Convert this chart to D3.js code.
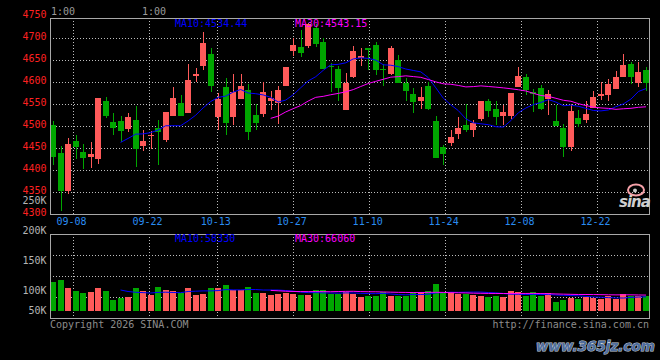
<!DOCTYPE html>
<html><head><meta charset="utf-8">
<script src="https://cdn.jsdelivr.net/npm/d3@7/dist/d3.min.js"></script>
<style>
html,body{margin:0;padding:0;background:#000;}
svg{display:block;}
text{font-family:"DejaVu Sans Mono",monospace;font-size:10px;}
</style></head>
<body>
<script>
// ---------- DATA ----------
const dates = ["09-03","09-04","09-05","09-08","09-09","09-10","09-11","09-12","09-15","09-16",
"09-17","09-18","09-19","09-22","09-23","09-24","09-25","09-26","09-29","09-30",
"10-09","10-10","10-13","10-14","10-15","10-16","10-17","10-20","10-21","10-22",
"10-23","10-24","10-27","10-28","10-29","10-30","10-31","11-03","11-04","11-05",
"11-06","11-07","11-10","11-11","11-12","11-13","11-14","11-17","11-18","11-19",
"11-20","11-21","11-24","11-25","11-26","11-27","11-28","12-01","12-02","12-03",
"12-04","12-05","12-08","12-09","12-10","12-11","12-12","12-15","12-16","12-17",
"12-18","12-19","12-22","12-23","12-24","12-25","12-26","12-29","12-30","12-31"];
const opens = [4503,4440,4354,4467,4442,4431,4426,4558,4510,4511,4495,4514,4456,4477,4496,4469,4524,4552,4531,4615,
4638,4664,4520,4589,4522,4561,4583,4526,4528,4558,4552,4592,4672,4680,4683,4724,4692,4638,4630,4537,
4611,4656,4677,4684,4630,4619,4651,4599,4574,4558,4592,4512,4453,4461,4483,4502,4492,4516,4557,4539,
4524,4524,4589,4612,4577,4587,4561,4512,4496,4452,4518,4514,4542,4569,4571,4585,4611,4642,4599,4628];
const highs = [4511,4456,4474,4480,4460,4464,4564,4567,4530,4523,4530,4546,4492,4489,4514,4533,4589,4571,4642,4633,
4714,4677,4575,4610,4619,4618,4597,4550,4601,4580,4592,4635,4700,4719,4735,4733,4700,4644,4638,4621,
4683,4678,4678,4692,4642,4683,4661,4609,4587,4589,4601,4524,4458,4492,4521,4551,4514,4558,4563,4557,
4549,4576,4635,4619,4585,4594,4583,4549,4505,4551,4536,4557,4580,4601,4608,4626,4664,4646,4646,4635];
const lows = [4411,4308,4346,4426,4402,4406,4415,4519,4480,4464,4488,4408,4443,4449,4411,4465,4523,4524,4530,4600,
4627,4577,4492,4481,4502,4561,4469,4492,4521,4538,4506,4592,4660,4658,4677,4680,4630,4577,4558,4536,
4609,4637,4627,4617,4592,4617,4599,4558,4531,4540,4536,4429,4411,4455,4471,4486,4476,4511,4521,4503,
4502,4517,4589,4571,4533,4536,4526,4501,4430,4445,4499,4508,4542,4560,4558,4585,4611,4597,4589,4580];
const closes = [4431,4352,4460,4453,4427,4436,4564,4524,4497,4490,4521,4449,4467,4481,4486,4533,4565,4524,4606,4619,
4689,4592,4563,4508,4578,4592,4486,4508,4578,4564,4583,4635,4685,4667,4733,4688,4631,4634,4588,4599,
4671,4660,4673,4627,4627,4678,4599,4580,4555,4567,4540,4429,4436,4476,4496,4492,4508,4558,4535,4520,
4533,4576,4615,4583,4574,4539,4574,4501,4452,4535,4505,4529,4567,4574,4596,4612,4639,4611,4624,4599];
const volumes = [122700,131100,97300,84600,76100,80400,97300,84600,46500,55000,
59200,97300,84600,67700,101500,88800,84600,76100,97300,67700,
71900,97300,97300,110000,88800,88800,100100,76100,76100,67700,
71900,76100,71900,67700,67700,88800,88800,72000,69100,79000,
69100,59200,63500,63500,79000,63500,63500,63500,79000,79000,
83200,114200,79000,79000,71900,71900,67700,63500,59200,63500,
59200,83200,79000,63500,79000,63500,74700,38100,45100,55000,
49400,57800,55000,50800,63500,50800,70500,63500,62000,63500];
const priceTicks = [4300,4350,4400,4450,4500,4550,4600,4650,4700,4750];
const volTicks = [250000,200000,150000,100000,50000];
const dateLabels = ["09-08","09-22","10-13","10-27","11-10","11-24","12-08","12-22"];
const priceLegend = ["MA10:4534.44","MA30:4543.15"];
const volLegend = ["MA10:58330","MA30:66060"];
const topLabels = ["1:00","1:00"];

// ---------- LAYOUT ----------
const W=660,H=360;
const main={l:50,r:649,t:18,b:214};
const vol={l:50,r:649,t:234,b:318};
const UP="#ff5a5a", DOWN="#00a600";
const GRID="#bdbdbd", BORDER="#a8a8a8";

const svg=d3.select("body").append("svg").attr("width",W).attr("height",H)
  .style("background","#000");
svg.append("rect").attr("width",W).attr("height",H).attr("fill","#000");

const n=closes.length;
const x=d3.scaleLinear().domain([0,n-1]).range([53,646]);
const xDate=d3.scaleLinear().domain([dates.indexOf("09-08"),dates.indexOf("12-22")]).range([72.7,596.7]);
const y=d3.scaleLinear().domain([4300,4750]).range([214.3,16.3]);
const yV=d3.scaleLinear().domain([0,200000]).range([310.7,263.4]);
const yVLabel=d3.scaleLinear().domain([100000,250000]).range([290,200.5]);

function ma(arr,k){return arr.map((v,i)=>i<k-1?null:d3.mean(arr.slice(i-k+1,i+1)));}

const gMain=svg.append("g").attr("shape-rendering","crispEdges");
priceTicks.filter(v=>v>4300&&v<4750).forEach(v=>{
  const yy=Math.round(y(v))+0.5;
  gMain.append("line").attr("x1",main.l).attr("x2",main.r).attr("y1",yy).attr("y2",yy)
    .attr("stroke",GRID).attr("stroke-dasharray","1,2");
});
dateLabels.forEach(d=>{
  const xx=Math.round(xDate(dates.indexOf(d)))+0.5;
  gMain.append("line").attr("x1",xx).attr("x2",xx).attr("y1",main.t).attr("y2",main.b)
    .attr("stroke",GRID).attr("stroke-dasharray","1,2");
  gMain.append("line").attr("x1",xx).attr("x2",xx).attr("y1",vol.t).attr("y2",vol.b)
    .attr("stroke",GRID).attr("stroke-dasharray","1,2");
});
[1,2,3].forEach(k=>{
  const yy=Math.round(vol.t+(vol.b-vol.t)*k/4)+0.5;
  gMain.append("line").attr("x1",vol.l).attr("x2",vol.r).attr("y1",yy).attr("y2",yy)
    .attr("stroke",GRID).attr("stroke-dasharray","1,2");
});

// candles
const gC=svg.append("g").attr("shape-rendering","crispEdges");
d3.range(n).forEach(i=>{
  const o=opens[i],c=closes[i],h=highs[i],l=lows[i];
  const col=c>=o?UP:DOWN;
  const left=Math.round(x(i))-3;
  const yh=Math.round(y(h)),yl=Math.round(y(l));
  gC.append("rect").attr("x",left+3).attr("y",yh).attr("width",1).attr("height",Math.max(1,yl-yh)).attr("fill",col);
  const bt=Math.round(y(Math.max(o,c))),bb=Math.round(y(Math.min(o,c)));
  gC.append("rect").attr("x",left).attr("y",bt).attr("width",6).attr("height",Math.max(1,bb-bt)).attr("fill",col);
});

// price MAs
const line=d3.line().defined(d=>d.v!=null).x(d=>x(d.i)).y(d=>y(d.v));
const ma10=ma(closes,10),ma30=ma(closes,30);
svg.append("path").datum(ma10.map((v,i)=>({i,v}))).attr("d",line).attr("fill","none").attr("stroke","#0000ff").attr("stroke-width",1);
svg.append("path").datum(ma30.map((v,i)=>({i,v}))).attr("d",line).attr("fill","none").attr("stroke","#ff00ff").attr("stroke-width",1);

// volume bars
const gV=svg.append("g").attr("shape-rendering","crispEdges");
const base=Math.round(yV(0));
d3.range(n).forEach(i=>{
  const col=closes[i]>=opens[i]?UP:DOWN;
  const top=Math.round(yV(volumes[i]));
  gV.append("rect").attr("x",Math.round(x(i))-3).attr("y",top).attr("width",6).attr("height",base-top).attr("fill",col);
});
const vline=d3.line().defined(d=>d.v!=null).x(d=>x(d.i)).y(d=>yV(d.v));
svg.append("path").datum(ma(volumes,10).map((v,i)=>({i,v}))).attr("d",vline).attr("fill","none").attr("stroke","#0000ff").attr("stroke-width",1);
svg.append("path").datum(ma(volumes,30).map((v,i)=>({i,v}))).attr("d",vline).attr("fill","none").attr("stroke","#ff00ff").attr("stroke-width",1);

// borders
const gB=svg.append("g").attr("shape-rendering","crispEdges").attr("fill","none").attr("stroke",BORDER);
gB.append("rect").attr("x",main.l+0.5).attr("y",main.t+0.5).attr("width",main.r-main.l).attr("height",main.b-main.t);
gB.append("rect").attr("x",vol.l+0.5).attr("y",vol.t+0.5).attr("width",vol.r-vol.l).attr("height",vol.b-vol.t);

// axis labels
priceTicks.forEach(v=>{
  svg.append("text").attr("x",46.5).attr("y",y(v)+2).attr("text-anchor","end")
    .attr("fill","#ff2020").text(v);
});
volTicks.forEach(v=>{
  svg.append("text").attr("x",46.5).attr("y",Math.min(yVLabel(v),310.7)+3.6).attr("text-anchor","end")
    .attr("fill","#b4b4b4").text(v/1000+"K");
});
dateLabels.forEach(d=>{
  svg.append("text").attr("x",xDate(dates.indexOf(d))-1.2).attr("y",225).attr("text-anchor","middle")
    .attr("fill","#2a8cf0").text(d);
});
svg.append("text").attr("x",51).attr("y",14.5).attr("fill","#9a9a9a").text(topLabels[0]);
svg.append("text").attr("x",142).attr("y",14.5).attr("fill","#9a9a9a").text(topLabels[1]);

// legends
svg.append("text").attr("x",175).attr("y",27.3).attr("fill","#0000ff").text(priceLegend[0]);
svg.append("text").attr("x",295).attr("y",27.3).attr("fill","#ff00ff").text(priceLegend[1]);
svg.append("text").attr("x",175).attr("y",242.3).attr("fill","#0000ff").text(volLegend[0]);
svg.append("text").attr("x",295).attr("y",242.3).attr("fill","#ff00ff").text(volLegend[1]);

// footer
svg.append("text").attr("x",50).attr("y",327.5).attr("fill","#8c8c8c").text("Copyright 2026 SINA.COM");
svg.append("text").attr("x",649).attr("y",327.5).attr("text-anchor","end").attr("fill","#8c8c8c").text("http://finance.sina.com.cn");

// sina logo
const lg=svg.append("g");
lg.append("ellipse").attr("cx",636).attr("cy",190).attr("rx",8).attr("ry",5.5).attr("fill","none").attr("stroke","#f4a0a8").attr("stroke-width",2);
lg.append("circle").attr("cx",635).attr("cy",190.5).attr("r",2).attr("fill","#c9c9c9");
lg.append("text").attr("x",619).attr("y",207)
  .style("fill","#cfcfcf").style("font-family","DejaVu Sans").style("font-weight","bold")
  .style("font-style","italic").style("font-size","15px").style("letter-spacing","-1px").text("sina");

// watermark
svg.append("text").attr("x",536).attr("y",351)
  .style("font-family","DejaVu Sans").style("font-weight","bold").style("font-style","italic").style("font-size","13.5px")
  .style("fill","#4f6e9e").style("stroke","#c8cfd8").style("stroke-width","1px").style("paint-order","stroke")
  .text("www.365jz.com");
</script>
</body></html>
